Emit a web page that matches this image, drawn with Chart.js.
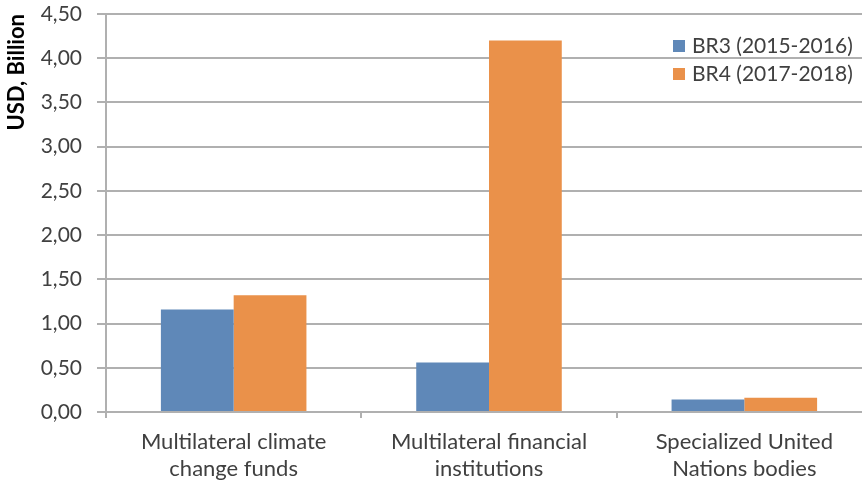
<!DOCTYPE html>
<html>
<head>
<meta charset="utf-8">
<script src="https://cdn.jsdelivr.net/npm/chart.js@4/dist/chart.umd.min.js"></script>
<style>
  html, body { margin: 0; padding: 0; background: #fff; overflow: hidden; }
  #wrap { width: 872px; height: 486px; }
</style>
</head>
<body>
<div id="wrap"><canvas id="myChart"></canvas></div>
<script>
const categories = [
    ["Multilateral climate", "change funds"],
    ["Multilateral financial", "institutions"],
    ["Specialized United", "Nations bodies"]
];
const seriesNames = ["BR3 (2015-2016)", "BR4 (2017-2018)"];
const br3Values = [1.16, 0.56, 0.14];
const br4Values = [1.32, 4.20, 0.16];
const seriesColors = ["#5f88b8", "#ea914a"];

const gridColor = "#b0b0b0";
const textColor = "#404040";
const fontFamily = "Lato, 'Open Sans', sans-serif";

// legend drawn inside the plot, top right, stacked
const insideLegend = {
    id: "insideLegend",
    afterDraw(chart) {
        const ctx = chart.ctx;
        ctx.save();
        ctx.font = "21px " + fontFamily;
        ctx.textBaseline = "middle";
        chart.data.datasets.forEach((ds, i) => {
            const y = 46 + i * 28;
            ctx.fillStyle = ds.backgroundColor;
            ctx.fillRect(673, y - 6, 12, 12);
            ctx.fillStyle = textColor;
            ctx.fillText(ds.label, 692, y);
        });
        ctx.restore();
    }
};

new Chart("myChart", {
    type: "bar",
    data: {
        labels: categories,
        datasets: [{
            label: seriesNames[0],
            data: br3Values,
            backgroundColor: seriesColors[0]
        }, {
            label: seriesNames[1],
            data: br4Values,
            backgroundColor: seriesColors[1]
        }]
    },
    options: {
        responsive: true,
        maintainAspectRatio: false,
        animation: false,
        layout: { padding: { top: 14, right: 0, bottom: 0, left: 0 } },
        datasets: {
            bar: { categoryPercentage: 0.57, barPercentage: 1.0 }
        },
        plugins: {
            legend: { display: false },
            tooltip: { enabled: false }
        },
        scales: {
            x: {
                grid: {
                    offset: true,
                    drawOnChartArea: false,
                    drawTicks: true,
                    tickLength: 6,
                    color: gridColor,
                    lineWidth: 2
                },
                border: { color: gridColor, width: 2 },
                ticks: {
                    color: textColor,
                    padding: 10,
                    font: { family: fontFamily, size: 22, lineHeight: 1.25 },
                    maxRotation: 0
                },
                afterFit(scale) { scale.height = 74; }
            },
            y: {
                min: 0,
                max: 4.5,
                ticks: {
                    stepSize: 0.5,
                    color: textColor,
                    padding: 15,
                    font: { family: fontFamily, size: 21 },
                    callback: v => v.toFixed(2).replace(".", ",")
                },
                grid: {
                    color: gridColor,
                    lineWidth: 2,
                    tickLength: 9
                },
                border: { color: gridColor, width: 2 },
                title: {
                    display: true,
                    text: "USD, Billion",
                    align: "end",
                    color: "#000",
                    padding: { top: 4, bottom: 4 },
                    font: { family: fontFamily, size: 22, weight: "bold" }
                },
                afterFit(scale) {
                    scale.width = 106;
                    scale.paddingTop = 0;
                }
            }
        }
    },
    plugins: [insideLegend]
});
</script>
</body>
</html>
